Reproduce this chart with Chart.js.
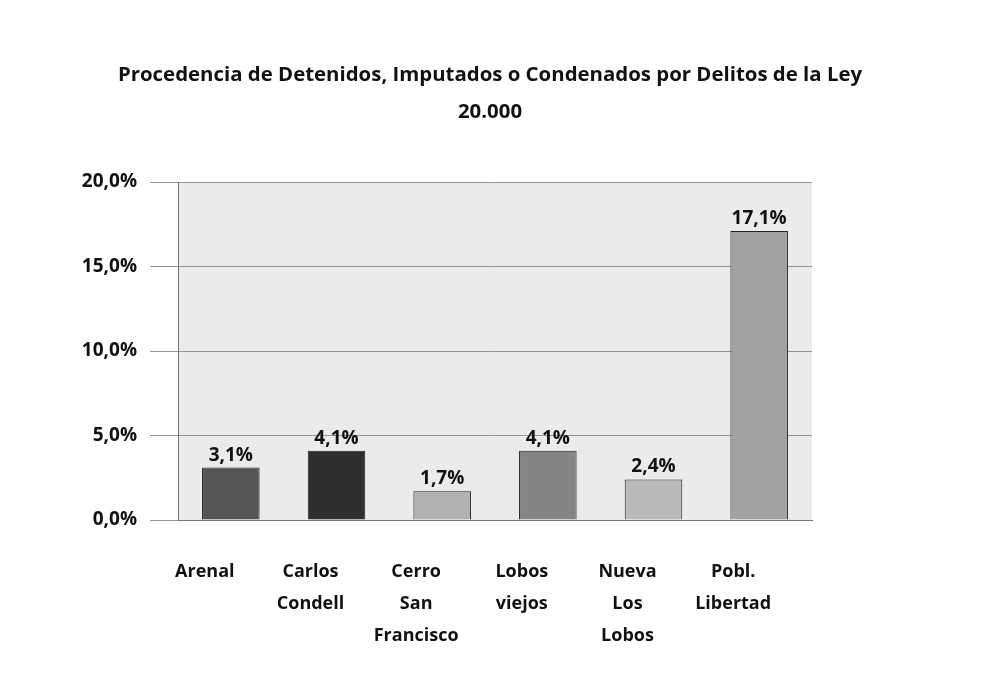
<!DOCTYPE html>
<html>
<head>
<meta charset="utf-8">
<script src="https://cdn.jsdelivr.net/npm/chart.js@4.4.0/dist/chart.umd.min.js"></script>
<style>
html,body{margin:0;padding:0;background:#fff;}
#wrap{width:988px;height:685px;position:relative;}
</style>
</head>
<body>
<div id="wrap"><canvas id="c" width="988" height="685"></canvas></div>
<script>
const categories = [["Arenal"], ["Carlos","Condell"], ["Cerro","San","Francisco"], ["Lobos","viejos"], ["Nueva","Los","Lobos"], ["Pobl.","Libertad"]];
const values = [3.1, 4.1, 1.7, 4.1, 2.4, 17.1];
const barColors = ["#555555", "#2e2e2e", "#b2b2b2", "#858585", "#bababa", "#a2a2a2"];
const yTicks = [0, 5, 10, 15, 20];
const titleLines = ["Procedencia de Detenidos, Imputados o Condenados por Delitos de la Ley", "20.000"];

const fmt = v => v.toFixed(1).replace('.', ',') + '%';

const plotBg = {
  id: 'plotBg',
  beforeDraw(chart) {
    const {ctx, chartArea: a} = chart;
    ctx.save();
    ctx.fillStyle = '#ebebeb';
    ctx.fillRect(a.left, a.top, a.right - a.left, a.bottom - a.top);
    ctx.restore();
  }
};
const titleDraw = {
  id: 'titleDraw',
  afterDraw(chart) {
    const {ctx} = chart;
    ctx.save();
    ctx.font = 'bold 20.4px "Open Sans"';
    ctx.fillStyle = '#111';
    ctx.textAlign = 'center';
    ctx.textBaseline = 'middle';
    ctx.fillText(titleLines[0], 490, 75);
    ctx.fillText(titleLines[1], 490, 112);
    ctx.restore();
  }
};
const dataLabels = {
  id: 'dataLabels',
  afterDatasetsDraw(chart) {
    const {ctx} = chart;
    const meta = chart.getDatasetMeta(0);
    ctx.save();
    ctx.font = 'bold 19px "Open Sans"';
    ctx.fillStyle = '#111';
    ctx.textAlign = 'center';
    ctx.textBaseline = 'bottom';
    meta.data.forEach((bar, i) => {
      ctx.fillText(fmt(values[i]), bar.x, bar.y - 3);
    });
    ctx.restore();
  }
};

new Chart(document.getElementById('c'), {
  type: 'bar',
  data: {
    labels: categories,
    datasets: [{
      data: values,
      backgroundColor: barColors,
      borderColor: '#222',
      borderWidth: 1,
      barPercentage: 0.545,
      categoryPercentage: 1.0
    }]
  },
  options: {
    responsive: false,
    animation: false,
    devicePixelRatio: 1,
    layout: {padding: {left: 0, right: 176, top: 182, bottom: 0}},
    plugins: {
      legend: {display: false},
      tooltip: {enabled: false},
      title: {display: false}
    },
    scales: {
      x: {
        grid: {display: false},
        border: {color: '#777'},
        afterFit(axis) { axis.height = 165; },
        ticks: {
          color: '#111',
          font: {family: '"Open Sans"', size: 18, weight: 'bold', lineHeight: 1.78},
          maxRotation: 0,
          autoSkip: false,
          padding: 28,
          labelOffset: -26
        }
      },
      y: {
        min: 0, max: 20,
        afterBuildTicks(axis) { axis.ticks = yTicks.map(v => ({value: v})); },
        afterFit(axis) { axis.width = 178; },
        grid: {color: '#949494', drawTicks: true, tickLength: 28},
        border: {color: '#777'},
        ticks: {
          color: '#111',
          font: {family: '"Open Sans"', size: 19, weight: 'bold'},
          padding: 13,
          callback: v => fmt(v)
        }
      }
    }
  },
  plugins: [plotBg, dataLabels, titleDraw]
});
</script>
</body>
</html>
